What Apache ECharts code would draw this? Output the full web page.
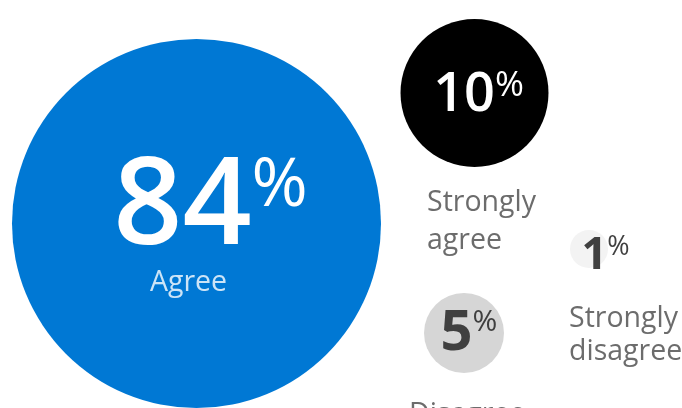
<!DOCTYPE html>
<html>
<head>
<meta charset="utf-8">
<title>Survey response bubbles</title>
<script src="https://cdn.jsdelivr.net/npm/echarts@6/dist/echarts.min.js"></script>
<style>
  html, body { margin: 0; padding: 0; background: #ffffff; }
  #chart { width: 682px; height: 408px; }
</style>
</head>
<body>
<div id="chart"></div>
<script>
// Survey answers and their share of respondents (%)
const categories = ['Agree', 'Strongly agree', 'Disagree', 'Strongly disagree'];
const shares = [84, 10, 5, 1];

// Bubble layout on a 682 x 408 canvas-sized coordinate system
const bubbleCenters = [[196.5, 223.5], [474.5, 93], [464, 333], [589, 249]];
const bubbleDiameters = [369, 148, 80, 38];
const bubbleColors = ['#0078d4', '#000000', '#d6d6d6', '#f3f3f3'];

// Value label styling: number size, percent size, percent drop, colour, weight, offset
const valueStyles = [
  { n: 121, p: 68, drop: 4, color: '#ffffff', weight: 600, offset: [14, -14] },
  { n: 54, p: 35, drop: 0, color: '#ffffff', weight: 600, offset: [4, 2.5] },
  { n: 56, p: 30, drop: 1, color: '#404040', weight: 'bold', offset: [5, 1] },
  { n: 45, p: 27, drop: 0, color: '#404040', weight: 'bold', offset: [16.5, 7] }
];

// Category name anchors (top-left, or top-centre for the first one)
const nameAnchors = [[188.5, 265], [427, 184], [409, 397], [569, 302]];
const nameStyles = [
  { color: '#ffffff', align: 'center', lineHeight: 36 },
  { color: '#474747', align: 'left', lineHeight: 38 },
  { color: '#474747', align: 'left', lineHeight: 36 },
  { color: '#474747', align: 'left', lineHeight: 33 }
];

const FONT = '"Open Sans", "Noto Sans", sans-serif';

const bubbleData = shares.map((v, i) => {
  const s = valueStyles[i];
  return {
    value: [bubbleCenters[i][0], bubbleCenters[i][1], v],
    name: categories[i],
    symbolSize: bubbleDiameters[i],
    itemStyle: { color: bubbleColors[i], opacity: 1 },
    label: {
      show: true,
      position: 'inside',
      offset: s.offset,
      formatter: '{n|' + v + '}{p|%}',
      rich: {
        n: {
          fontFamily: FONT, fontSize: s.n, lineHeight: s.n,
          color: s.color, fontWeight: s.weight
        },
        p: {
          fontFamily: FONT, fontSize: s.p, lineHeight: s.p,
          color: s.color, verticalAlign: 'top',
          padding: [s.drop, 0, 0, 0]
        }
      }
    }
  };
});

const nameData = categories.map((c, i) => {
  const st = nameStyles[i];
  return {
    value: nameAnchors[i],
    name: c,
    label: {
      show: true,
      position: [0, 0],
      align: st.align,
      verticalAlign: 'top',
      formatter: c.replace(' ', '\n'),
      fontFamily: FONT,
      fontSize: 28.5,
      lineHeight: st.lineHeight,
      color: st.color
    }
  };
});

const chart = echarts.init(document.getElementById('chart'), null, { renderer: 'canvas' });
chart.setOption({
  animation: false,
  backgroundColor: '#ffffff',
  grid: { left: 0, right: 0, top: 0, bottom: 0 },
  xAxis: { type: 'value', min: 0, max: 682, show: false },
  yAxis: { type: 'value', min: 0, max: 408, inverse: true, show: false },
  series: [
    {
      type: 'scatter',
      symbol: 'circle',
      data: bubbleData,
      emphasis: { disabled: true },
      z: 2
    },
    {
      type: 'scatter',
      symbolSize: 0,
      data: nameData,
      emphasis: { disabled: true },
      z: 3
    }
  ]
});
</script>
</body>
</html>
